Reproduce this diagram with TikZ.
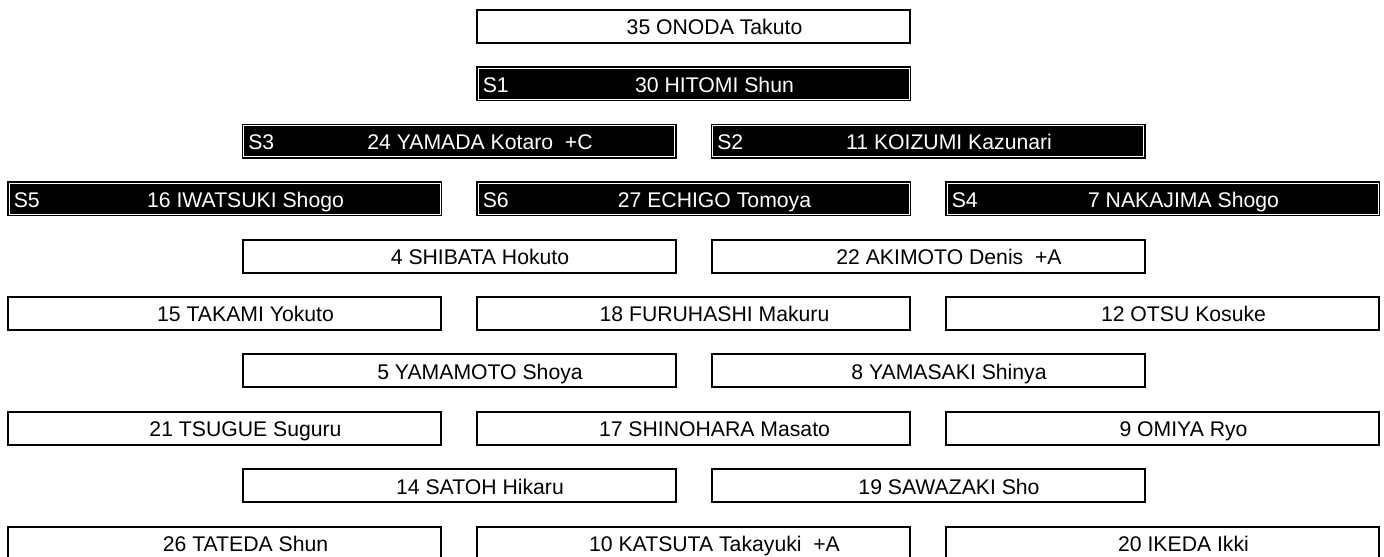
\documentclass[tikz,border=0pt]{standalone}
\usepackage{fontspec}
\setmainfont{Liberation Sans}
\usepackage{tikz}
\usetikzlibrary{calc}
\tikzset{
  pbox/.style={draw=black, line width=1pt, fill=white, minimum width=216.5pt, minimum height=16.5pt, inner sep=0pt, outer sep=0pt},
  sbox/.style={draw=black, fill=black, double=white, double distance=0.5pt, line width=0.75pt, minimum width=215.5pt, minimum height=15.5pt, inner sep=0pt, outer sep=0pt},
  ptext/.style={inner sep=0pt, text height=8.4pt, text depth=0pt, font=\fontsize{10.6}{12}\selectfont},
  stag/.style={ptext, anchor=west, text=white}
}
\def\plainbox(#1)(#2,#3)#4{%
  \node[pbox] (#1) at (#2,#3) {};
  \node[ptext] (#1-t) at ([xshift=10.5pt]#1.center) {#4};}
\def\starterbox(#1)(#2,#3)#4#5{%
  \node[sbox] (#1) at (#2,#3) {};
  \node[stag] (#1-s) at ([xshift=2.2pt]#1.west) {#4};
  \node[ptext, text=white] (#1-t) at ([xshift=10.5pt]#1.center) {#5};}

\begin{document}
\begin{tikzpicture}[x=0.5pt, y=-0.5pt]
			%%%%% START %%%%%
			\useasboundingbox (0, 0) rectangle (1384, 556);
			
			% coach and starters
			\plainbox(onoda)(693.5, 26.5){35 ONODA Takuto}
			\starterbox(hitomi)(693.5, 83.9){S1}{30 HITOMI Shun}
			
			\starterbox(yamada)(459, 141.3){S3}{24 YAMADA Kotaro~ +C}
			\starterbox(koizumi)(928, 141.3){S2}{11 KOIZUMI Kazunari}
			
			\starterbox(iwatsuki)(224.5, 198.7){S5}{16 IWATSUKI Shogo}
			\starterbox(echigo)(693.5, 198.7){S6}{27 ECHIGO Tomoya}
			\starterbox(nakajima)(1162.5, 198.7){S4}{7 NAKAJIMA Shogo}
			
			% bench
			\plainbox(shibata)(459, 256.1){4 SHIBATA Hokuto}
			\plainbox(akimoto)(928, 256.1){22 AKIMOTO Denis~ +A}
			
			\plainbox(takami)(224.5, 313.5){15 TAKAMI Yokuto}
			\plainbox(furuhashi)(693.5, 313.5){18 FURUHASHI Makuru}
			\plainbox(otsu)(1162.5, 313.5){12 OTSU Kosuke}
			
			\plainbox(yamamoto)(459, 370.9){5 YAMAMOTO Shoya}
			\plainbox(yamasaki)(928, 370.9){8 YAMASAKI Shinya}
			
			\plainbox(tsugue)(224.5, 428.3){21 TSUGUE Suguru}
			\plainbox(shinohara)(693.5, 428.3){17 SHINOHARA Masato}
			\plainbox(omiya)(1162.5, 428.3){9 OMIYA Ryo}
			
			\plainbox(satoh)(459, 485.7){14 SATOH Hikaru}
			\plainbox(sawazaki)(928, 485.7){19 SAWAZAKI Sho}
			
			\plainbox(tateda)(224.5, 543.1){26 TATEDA Shun}
			\plainbox(katsuta)(693.5, 543.1){10 KATSUTA Takayuki~ +A}
			\plainbox(ikeda)(1162.5, 543.1){20 IKEDA Ikki}
			
			%%%%% END %%%%%
\end{tikzpicture}
\end{document}
